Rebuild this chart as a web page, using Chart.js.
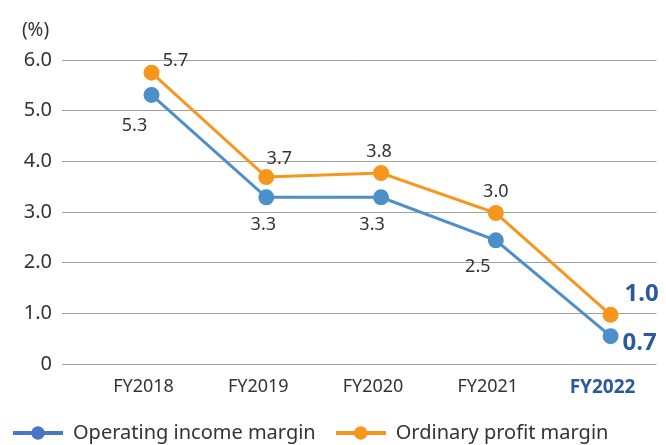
<!DOCTYPE html>
<html>
<head>
<meta charset="utf-8">
<script src="https://cdn.jsdelivr.net/npm/chart.js@4"></script>
<style>
  html, body { margin: 0; padding: 0; background: #fff; }
  #wrap { width: 666px; height: 445px; }
</style>
</head>
<body>
<div id="wrap"><canvas id="chart" width="666" height="445"></canvas></div>
<script>
// data
const years = ["FY2018", "FY2019", "FY2020", "FY2021", "FY2022"];
const operating = [5.31, 3.29, 3.29, 2.44, 0.55];
const ordinary = [5.75, 3.69, 3.77, 2.98, 0.97];
const operatingLabels = ["5.3", "3.3", "3.3", "2.5", "0.7"];
const ordinaryLabels = ["5.7", "3.7", "3.8", "3.0", "1.0"];
const yTicks = [0, 1, 2, 3, 4, 5, 6];

const BLUE = "#4d8fc8";
const ORANGE = "#f7961d";
const LEG_BLUE = "#4b76c4";
const DARK = "#333333";
const HL = "#2a5a9c";
const FONT = "'Noto Sans', 'DejaVu Sans', sans-serif";

// legend marker: line with a dot
function marker(color) {
  const c = document.createElement("canvas");
  c.width = 50; c.height = 14;
  const g = c.getContext("2d");
  g.strokeStyle = color; g.lineWidth = 4;
  g.beginPath(); g.moveTo(0, 7); g.lineTo(50, 7); g.stroke();
  g.fillStyle = color;
  g.beginPath(); g.arc(25, 7, 6.7, 0, Math.PI * 2); g.fill();
  return c;
}

// value labels + (%) unit
const labelPlugin = {
  id: "labels",
  afterDatasetsDraw(chart) {
    const ctx = chart.ctx;
    ctx.save();
    ctx.textAlign = "center";
    ctx.textBaseline = "middle";
    // offsets per point [dx, dy]
    const offOrd = [[24, -12], [13, -18], [-2, -21], [0, -21], [31, -21]];
    const offOp = [[-17, 31], [-3, 28], [-9, 28], [-18, 27], [29, 7]];
    [[0, ordinaryLabels, offOrd], [1, operatingLabels, offOp]].forEach(([di, labs, offs]) => {
      const meta = chart.getDatasetMeta(di);
      meta.data.forEach((pt, i) => {
        const last = i === labs.length - 1;
        ctx.font = last ? "bold 24px " + FONT : "18px " + FONT;
        ctx.fillStyle = last ? HL : DARK;
        ctx.fillText(labs[i], pt.x + offs[i][0], pt.y + offs[i][1]);
      });
    });
    ctx.font = "19px " + FONT;
    ctx.fillStyle = DARK;
    ctx.fillText("(%)", 35.5, 31);
    ctx.restore();
  }
};

const ctx = document.getElementById("chart");

new Chart(ctx, {
  type: "line",
  data: {
    datasets: [
      {
        label: "Ordinary profit margin",
        data: ordinary.map((v, i) => ({ x: i, y: v })),
        borderColor: ORANGE,
        backgroundColor: ORANGE,
        borderWidth: 3,
        pointRadius: 6.5,
        pointHoverRadius: 6.5,
        pointStyle: "circle",
        order: 1
      },
      {
        label: "Operating income margin",
        data: operating.map((v, i) => ({ x: i, y: v })),
        borderColor: BLUE,
        backgroundColor: BLUE,
        borderWidth: 3,
        pointRadius: 6.5,
        pointHoverRadius: 6.5,
        pointStyle: "circle",
        order: 2
      }
    ]
  },
  options: {
    responsive: false,
    animation: false,
    layout: { padding: { top: 60, right: 4, left: -7, bottom: -8 } },
    plugins: {
      tooltip: { enabled: false },
      legend: {
        position: "bottom",
        align: "start",
        reverse: true,
        labels: {
          usePointStyle: true,
          pointStyleWidth: 50,
          color: DARK,
          font: { family: FONT, size: 20 },
          padding: 20,
          generateLabels(chart) {
            return chart.data.datasets.map((d, i) => {
              const col = i === 1 ? LEG_BLUE : d.borderColor;
              return {
                text: d.label,
                pointStyle: marker(col),
                fillStyle: col,
                strokeStyle: col,
                lineWidth: 0,
                fontColor: DARK,
                datasetIndex: i,
                hidden: false
              };
            });
          }
        }
      }
    },
    scales: {
      x: {
        type: "linear",
        min: -0.78,
        max: 4.4,
        afterBuildTicks(axis) {
          axis.ticks = years.map((_, i) => ({ value: i - 0.07 }));
        },
        afterFit(axis) { axis.height = 39; },
        grid: { display: false },
        border: { display: false },
        ticks: {
          autoSkip: false,
          maxRotation: 0,
          padding: 4,
          callback: (v) => years[Math.round(v)],
          color: (c) => (c.index === years.length - 1 ? HL : DARK),
          font: (c) => ({ family: FONT, size: c.index === years.length - 1 ? 19 : 18, weight: c.index === years.length - 1 ? "bold" : "normal" })
        }
      },
      y: {
        min: 0,
        max: 6,
        afterBuildTicks(axis) {
          axis.ticks = yTicks.map((v) => ({ value: v }));
        },
        afterFit(axis) { axis.width = 69; },
        grid: { color: "#a0a0a0", lineWidth: 1, drawTicks: false },
        border: { display: false },
        ticks: {
          padding: 10,
          color: DARK,
          font: { family: FONT, size: 20 },
          callback: (v) => (v === 0 ? "0" : v.toFixed(1))
        }
      }
    }
  },
  plugins: [labelPlugin]
});
</script>
</body>
</html>
